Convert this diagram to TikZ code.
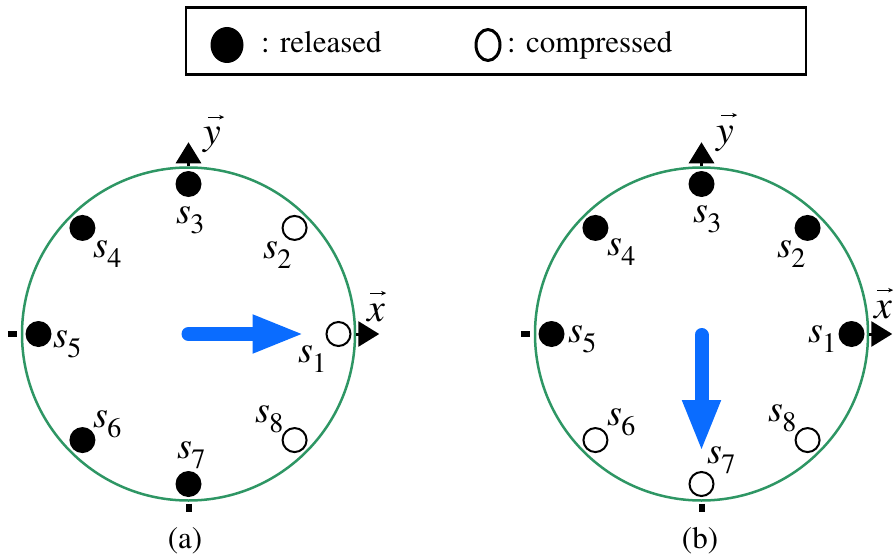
\documentclass[tikz,border=0pt]{standalone}
\usepackage{fontspec}
\setmainfont{texgyretermes}[Extension=.otf, UprightFont=*-regular, ItalicFont=*-italic, BoldFont=*-bold, BoldItalicFont=*-bolditalic]
\usetikzlibrary{arrows.meta,shapes.geometric,calc}
\definecolor{ringgreen}{RGB}{46,150,100}
\definecolor{motionblue}{RGB}{10,108,255}
\newcommand\slab[1]{{\fontsize{38}{38}\selectfont\itshape s}\kern-0.5pt\raisebox{-10pt}{\fontsize{28}{28}\selectfont #1}}
\begin{document}
\begin{tikzpicture}[x=1pt,y=-1pt,
  ring/.style={circle, draw=ringgreen, line width=2.5pt, minimum size=333pt, inner sep=0},
  full/.style={circle, fill=black, minimum size=26pt, inner sep=0},
  hollow/.style={circle, draw=black, fill=white, line width=2pt, minimum size=24pt, inner sep=0},
  slabel/.style={anchor=base west, inner sep=0},
  axislab/.style={anchor=base west, inner sep=0, font=\fontsize{40}{40}\selectfont\itshape},
  axisarrow/.style={line width=3pt, -{Triangle[length=21pt,width=25pt]}},
  tickmark/.style={line width=6pt},
  motion/.style={draw=motionblue, line width=14pt, line cap=round, -{Triangle[length=52pt,width=35pt]}},
  vecarrow/.style={line width=1.1pt, -{Stealth[length=5pt,width=4.5pt]}},
  caption/.style={font=\fontsize{31}{31}\selectfont, anchor=base, inner sep=0},
  legtext/.style={font=\fontsize{31}{31}\selectfont, anchor=base west, inner sep=0},
]
\useasboundingbox (0,0) rectangle (894,559);

% legend
\node[draw, line width=2.5pt, minimum width=620pt, minimum height=67pt, inner sep=0] (legend) at (496,41) {};
\node[ellipse, fill=black, minimum width=33pt, minimum height=36pt, inner sep=0] (legfull) at (227,45) {};
\node[legtext] (legfulltext) at (261,53) {: released};
\node[ellipse, draw, line width=3pt, minimum width=24pt, minimum height=31pt, inner sep=0] (leghollow) at (488,45) {};
\node[legtext] (leghollowtext) at (507,53) {: compressed};

% ---------------- (a) ----------------
\coordinate (ca) at (188.5,334);
\node[ring] (ringa) at (ca) {};
\draw[axisarrow] (ringa.north) -- ++(0,-24);
\draw[axisarrow] (ringa.east) -- ++(23,0);
\draw[tickmark] ($(ringa.west)+(-13,0)$) -- ($(ringa.west)+(-4,0)$);
\draw[tickmark] ($(ringa.south)+(0,2)$) -- ($(ringa.south)+(0,10)$);
\node[axislab] (ya) at (203,145) {y};
\draw[vecarrow] ($(ya.north west)+(5,-10)$) -- ($(ya.north east)+(3,-10)$);
\node[axislab] (xa) at (367,321) {x};
\draw[vecarrow] ($(xa.north west)+(3,-10)$) -- ($(xa.north east)+(1,-10)$);

\node[hollow] (a1) at ($(ca)+(0:150)$) {};
\node[hollow] (a2) at ($(ca)+(-45:150)$) {};
\node[full]   (a3) at ($(ca)+(-90:150)$) {};
\node[full]   (a4) at ($(ca)+(-135:150)$) {};
\node[full]   (a5) at ($(ca)+(180:150)$) {};
\node[full]   (a6) at ($(ca)+(135:150)$) {};
\node[full]   (a7) at ($(ca)+(90:150)$) {};
\node[hollow] (a8) at ($(ca)+(45:150)$) {};

\node[slabel] (la1) at (298,362) {\slab{1}};
\node[slabel] (la2) at (263,258) {\slab{2}};
\node[slabel] (la3) at (176,223) {\slab{3}};
\node[slabel] (la4) at (93,257) {\slab{4}};
\node[slabel] (la5) at (53,347) {\slab{5}};
\node[slabel] (la6) at (93,427) {\slab{6}};
\node[slabel] (la7) at (177,458) {\slab{7}};
\node[slabel] (la8) at (255,422) {\slab{8}};

\draw[motion] (ca) -- ($(ca)+(116,0)$);
\node[caption] (capa) at (185,548) {(a)};

% ---------------- (b) ----------------
\coordinate (cb) at (701.5,334);
\node[ring] (ringb) at (cb) {};
\draw[axisarrow] (ringb.north) -- ++(0,-24);
\draw[axisarrow] (ringb.east) -- ++(23,0);
\draw[tickmark] ($(ringb.west)+(-13,0)$) -- ($(ringb.west)+(-4,0)$);
\draw[tickmark] ($(ringb.south)+(0,2)$) -- ($(ringb.south)+(0,10)$);
\node[axislab] (yb) at (716,143) {y};
\draw[vecarrow] ($(yb.north west)+(5,-10)$) -- ($(yb.north east)+(3,-10)$);
\node[axislab] (xb) at (874,318) {x};
\draw[vecarrow] ($(xb.north west)+(3,-10)$) -- ($(xb.north east)+(1,-10)$);

\node[full]   (b1) at ($(cb)+(0:150)$) {};
\node[full]   (b2) at ($(cb)+(-45:150)$) {};
\node[full]   (b3) at ($(cb)+(-90:150)$) {};
\node[full]   (b4) at ($(cb)+(-135:150)$) {};
\node[full]   (b5) at ($(cb)+(180:150)$) {};
\node[hollow] (b6) at ($(cb)+(135:150)$) {};
\node[hollow] (b7) at ($(cb)+(90:150)$) {};
\node[hollow] (b8) at ($(cb)+(45:150)$) {};

\node[slabel] (lb1) at (808,342) {\slab{1}};
\node[slabel] (lb2) at (777,257) {\slab{2}};
\node[slabel] (lb3) at (693,222) {\slab{3}};
\node[slabel] (lb4) at (607,255) {\slab{4}};
\node[slabel] (lb5) at (568,342) {\slab{5}};
\node[slabel] (lb6) at (607,425) {\slab{6}};
\node[slabel] (lb7) at (707,463) {\slab{7}};
\node[slabel] (lb8) at (768,421) {\slab{8}};

\draw[motion] ($(cb)+(0,1)$) -- ($(cb)+(0,118)$);
\node[caption] (capb) at (700,548) {(b)};
\end{tikzpicture}
\end{document}
